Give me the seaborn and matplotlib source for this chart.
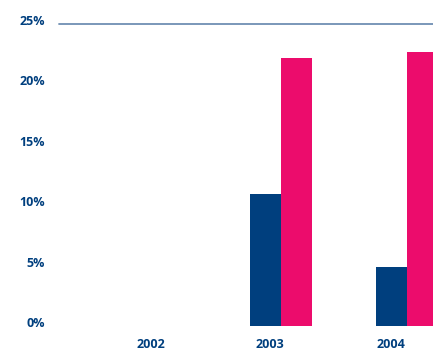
import matplotlib
matplotlib.use("Agg")
import matplotlib.pyplot as plt
import matplotlib.transforms as mtransforms
import seaborn as sns
import pandas as pd

years = ["2002", "2003", "2004"]
series_a = [0.0, 10.9, 4.9]
series_b = [0.0, 22.2, 22.7]
yticks = [0, 5, 10, 15, 20, 25]

df = pd.DataFrame({
    "year": years * 2,
    "value": series_a + series_b,
    "series": ["A"] * 3 + ["B"] * 3,
})

sns.set_theme(style="white")
plt.rcParams["font.family"] = ["Open Sans", "DejaVu Sans"]

blue = "#003F7E"
pink = "#EC0C6C"

fig = plt.figure(figsize=(4.33, 3.51), dpi=100)
ax = fig.add_axes([59/433, 25/351, 1 - 59/433, (326 - 23.7)/351 * 1.012])

sns.barplot(data=df, x="year", y="value", hue="series", palette=[blue, pink],
            width=0.49, saturation=1, ax=ax, legend=False, linewidth=0, edgecolor="none")

ax.set_xlim(-0.76, 2.206)
ax.set_ylim(0, 25.3)
ax.axhline(25, color="#6F8FB3", lw=1.3, clip_on=False)
for s in ax.spines.values():
    s.set_visible(False)
ax.set_yticks(yticks)
ax.set_yticklabels([f"{v}%" for v in yticks], fontsize=9, fontweight="bold", color=blue)
ax.set_xticks([-0.035, 0.915, 1.875])
ax.set_xticklabels(years, fontsize=9, fontweight="bold", color=blue)
ax.tick_params(axis="both", length=0)
ax.tick_params(axis="y", pad=10)
ax.tick_params(axis="x", pad=9)
ax.set_xlabel("")
ax.set_ylabel("")
ax.grid(False)

up = mtransforms.ScaledTranslation(0, 4/100, fig.dpi_scale_trans)
for lab in ax.get_yticklabels():
    lab.set_transform(lab.get_transform() + up)

fig.savefig("out.png", dpi=100)
